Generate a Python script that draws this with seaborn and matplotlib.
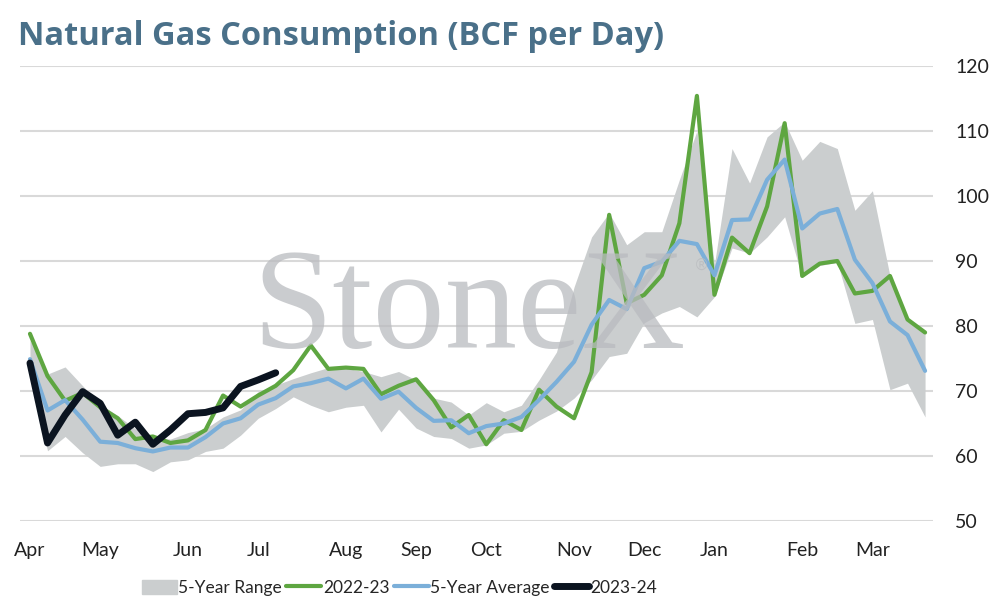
import numpy as np
import pandas as pd
import seaborn as sns
import matplotlib.pyplot as plt
from matplotlib.patches import Patch
from matplotlib.lines import Line2D

# weekly values, April -> March (52 weeks)
months = ["Apr", "May", "Jun", "Jul", "Aug", "Sep", "Oct", "Nov", "Dec", "Jan", "Feb", "Mar"]
month_week = [0, 4, 9, 13, 18, 22, 26, 31, 35, 39, 44, 48]

range_low = [72.0, 60.8, 63.0, 60.5, 58.4, 58.8, 58.8, 57.6, 59.1, 59.4,
             60.7, 61.2, 63.2, 65.8, 67.3, 69.1, 67.8, 66.8, 67.5, 67.8,
             63.7, 67.2, 64.3, 63.0, 62.7, 61.2, 61.7, 63.5, 63.8, 65.5,
             66.9, 68.9, 71.7, 75.3, 75.8, 80.5, 82.0, 83.0, 81.4, 84.5,
             92.0, 91.2, 93.7, 96.8, 87.5, 89.3, 89.8, 80.4, 81.0, 70.2,
             71.2, 66.0]
range_high = [77.8, 72.6, 73.7, 70.8, 68.0, 66.2, 64.2, 62.9, 62.6, 63.6,
              64.2, 66.0, 67.1, 69.9, 70.9, 71.9, 72.8, 73.6, 73.5, 73.0,
              72.2, 73.0, 71.7, 68.9, 68.3, 66.3, 68.2, 66.8, 67.8, 71.7,
              76.0, 86.0, 93.7, 97.4, 92.5, 94.5, 94.5, 102.5, 110.0, 89.5,
              107.3, 102.0, 109.1, 111.4, 105.5, 108.4, 107.3, 97.8, 100.8, 87.7,
              81.0, 79.0]
y2022 = [78.8, 72.3, 68.5, 69.7, 67.5, 65.8, 62.6, 63.0, 62.0, 62.4,
         64.0, 69.3, 67.6, 69.3, 70.8, 73.2, 77.0, 73.4, 73.6, 73.4,
         69.5, 70.8, 71.8, 68.6, 64.4, 66.3, 61.8, 65.5, 64.0, 70.2,
         67.6, 65.8, 72.9, 97.1, 83.5, 84.8, 87.8, 95.8, 115.4, 84.8,
         93.6, 91.2, 98.4, 111.2, 87.7, 89.6, 90.0, 85.0, 85.4, 87.7,
         81.0, 79.0]
avg5 = [74.9, 67.0, 68.6, 65.6, 62.2, 62.0, 61.2, 60.7, 61.3, 61.3,
        62.9, 65.0, 65.8, 67.9, 68.9, 70.7, 71.2, 71.9, 70.4, 71.9,
        68.8, 69.9, 67.4, 65.4, 65.5, 63.5, 64.6, 65.0, 66.0, 68.6,
        71.4, 74.5, 80.2, 84.0, 82.6, 88.9, 89.9, 93.1, 92.6, 87.8,
        96.3, 96.4, 102.5, 105.6, 95.0, 97.3, 98.0, 90.2, 86.6, 80.7,
        78.6, 73.1]
y2023 = [74.3, 62.0, 66.3, 69.9, 68.1, 63.2, 65.2, 61.8, 64.0, 66.5,
         66.7, 67.4, 70.7, 71.7, 72.8]

c_range = "#cbcecf"
c_green = "#5ea641"
c_blue = "#7bafd9"
c_black = "#0b1420"
c_title = "#4a7089"

sns.set_theme(style="white")
plt.rcParams['font.family'] = ['Lato', 'DejaVu Sans']

weeks = np.arange(len(avg5))
df = pd.DataFrame({"week": weeks, "low": range_low, "high": range_high,
                   "2022-23": y2022, "5-Year Average": avg5})
df_new = pd.DataFrame({"week": np.arange(len(y2023)), "2023-24": y2023})

fig = plt.figure(figsize=(9.94, 6.06), dpi=100)
ax = fig.add_axes([0.0201, 0.1403, 0.9185, 0.7508])

ax.fill_between(df["week"], df["low"], df["high"], color=c_range, lw=0, zorder=1)

# watermark
fig.text(0.472, 0.482, "StoneX", family="Liberation Serif", fontsize=104,
         color="#b9bbbf", alpha=0.75, ha="center", va="center", zorder=2)
fig.text(0.706, 0.562, "®", family="DejaVu Sans", fontsize=11,
         color="#b9bbbf", alpha=0.75, ha="center", va="center", zorder=2)

sns.lineplot(data=df, x="week", y="2022-23", color=c_green, lw=3, ax=ax, zorder=3)
sns.lineplot(data=df, x="week", y="5-Year Average", color=c_blue, lw=3, ax=ax, zorder=4)
sns.lineplot(data=df_new, x="week", y="2023-24", color=c_black, lw=5,
             solid_capstyle="round", ax=ax, zorder=5)

ax.set_xlim(-0.57, 51.45)
ax.set_ylim(50, 120)
ax.set_yticks(range(50, 121, 10))
ax.yaxis.tick_right()
ax.set_xticks(month_week)
ax.set_xticklabels(months)
ax.set_xlabel("")
ax.set_ylabel("")
ax.tick_params(axis="y", length=0, pad=16, labelsize=14, labelcolor="#222222")
ax.tick_params(axis="x", length=0, pad=15, labelsize=14, labelcolor="#222222")
ax.grid(axis="y", color="#d9d9d9", lw=1.5)
ax.set_axisbelow(True)
for s in ax.spines.values():
    s.set_visible(False)

fig.text(0.018, 0.939, "Natural Gas Consumption (BCF per Day)", family="Open Sans",
         fontsize=23.5, fontweight="bold", color=c_title, ha="left", va="center")

handles = [Patch(color=c_range, label="5-Year Range"),
           Line2D([], [], color=c_green, lw=3, label="2022-23"),
           Line2D([], [], color=c_blue, lw=3, label="5-Year Average"),
           Line2D([], [], color=c_black, lw=5, label="2023-24")]
fig.legend(handles=handles, loc="center", bbox_to_anchor=(0.402, 0.030), ncol=4,
           frameon=False, fontsize=12.5, handlelength=2.0, handletextpad=0.1,
           columnspacing=0.25, handleheight=0.9)

fig.savefig("out.png", dpi=100)
